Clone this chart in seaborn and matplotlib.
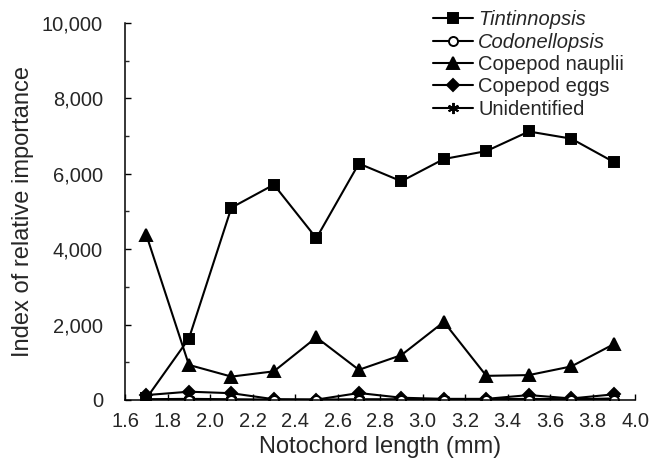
import numpy as np
import pandas as pd
import matplotlib
matplotlib.use('Agg')
import matplotlib.pyplot as plt
from matplotlib.ticker import MultipleLocator, FuncFormatter
import seaborn as sns

# Values
length = [1.7, 1.9, 2.1, 2.3, 2.5, 2.7, 2.9, 3.1, 3.3, 3.5, 3.7, 3.9]
tintinnopsis = [45, 1630, 5100, 5710, 4290, 6270, 5800, 6390, 6600, 7120, 6930, 6310]
codonellopsis = [10, 0, 0, 0, 0, 0, 0, 0, 0, 0, 0, 0]
nauplii = [4370, 930, 620, 760, 1660, 800, 1190, 2070, 640, 660, 890, 1480]
eggs = [130, 220, 180, 20, 10, 185, 60, 30, 30, 130, 40, 150]
unidentified = [20, 30, 20, 10, 10, 20, 20, 20, 20, 30, 20, 40]

series_names = ['Tintinnopsis', 'Codonellopsis', 'Copepod nauplii',
                'Copepod eggs', 'Unidentified']
series_values = [tintinnopsis, codonellopsis, nauplii, eggs, unidentified]

sns.set_style('ticks')
plt.rcParams['font.family'] = ['Liberation Sans', 'DejaVu Sans']

fig = plt.figure(figsize=(6.52, 4.67), dpi=100)
ax = fig.add_axes([0.192, 0.1435, 0.782, 0.8075])

styles = {
    'Tintinnopsis': dict(marker='s', mfc='black', ms=7.5),
    'Codonellopsis': dict(marker='o', mfc='white', ms=6.5),
    'Copepod nauplii': dict(marker='^', mfc='black', ms=8.5),
    'Copepod eggs': dict(marker='D', mfc='black', ms=6),
    'Unidentified': dict(marker=(6, 2, 0), mfc='black', ms=8),
}

# draw bottom series first so the top ones sit over them
for name, vals in list(zip(series_names, series_values))[::-1]:
    st = styles[name]
    sns.lineplot(x=length, y=vals, ax=ax, color='black', linewidth=1.5,
                 marker=st['marker'], markersize=st['ms'],
                 markerfacecolor=st['mfc'], markeredgecolor='black',
                 markeredgewidth=1.4, label=name, legend=False)

ax.set_xlim(1.6, 4.0)
ax.set_ylim(0, 10000)
ax.xaxis.set_major_locator(MultipleLocator(0.2))
ax.yaxis.set_major_locator(MultipleLocator(2000))
ax.yaxis.set_minor_locator(MultipleLocator(1000))
ax.xaxis.set_major_formatter(FuncFormatter(lambda v, p: f'{v:.1f}'))
ax.yaxis.set_major_formatter(FuncFormatter(lambda v, p: f'{int(v):,}'))

ax.tick_params(axis='both', which='major', direction='in', length=4,
               width=1, labelsize=14.5, color='black')
ax.tick_params(axis='y', which='minor', direction='in', length=3, width=1)
ax.tick_params(axis='y', which='major', pad=16)
ax.tick_params(axis='x', which='major', pad=9)

for s in ['top', 'right']:
    ax.spines[s].set_visible(False)
for s in ['left', 'bottom']:
    ax.spines[s].set_linewidth(1.1)
    ax.spines[s].set_color('black')

ax.set_xlabel('Notochord length (mm)', fontsize=17, labelpad=3)
ax.set_ylabel('Index of relative importance', fontsize=17, labelpad=6)

# legend in series order, italics for the genera
handles, labels = ax.get_legend_handles_labels()
order = [labels.index(n) for n in series_names]
leg = ax.legend([handles[i] for i in order], [labels[i] for i in order],
                loc='upper left', bbox_to_anchor=(0.588, 1.055), frameon=False,
                fontsize=14.5, handlelength=2.0, handletextpad=0.25,
                labelspacing=0.17, borderaxespad=0)
for t in leg.get_texts()[:2]:
    t.set_fontstyle('italic')

fig.savefig('out.png', dpi=100)
